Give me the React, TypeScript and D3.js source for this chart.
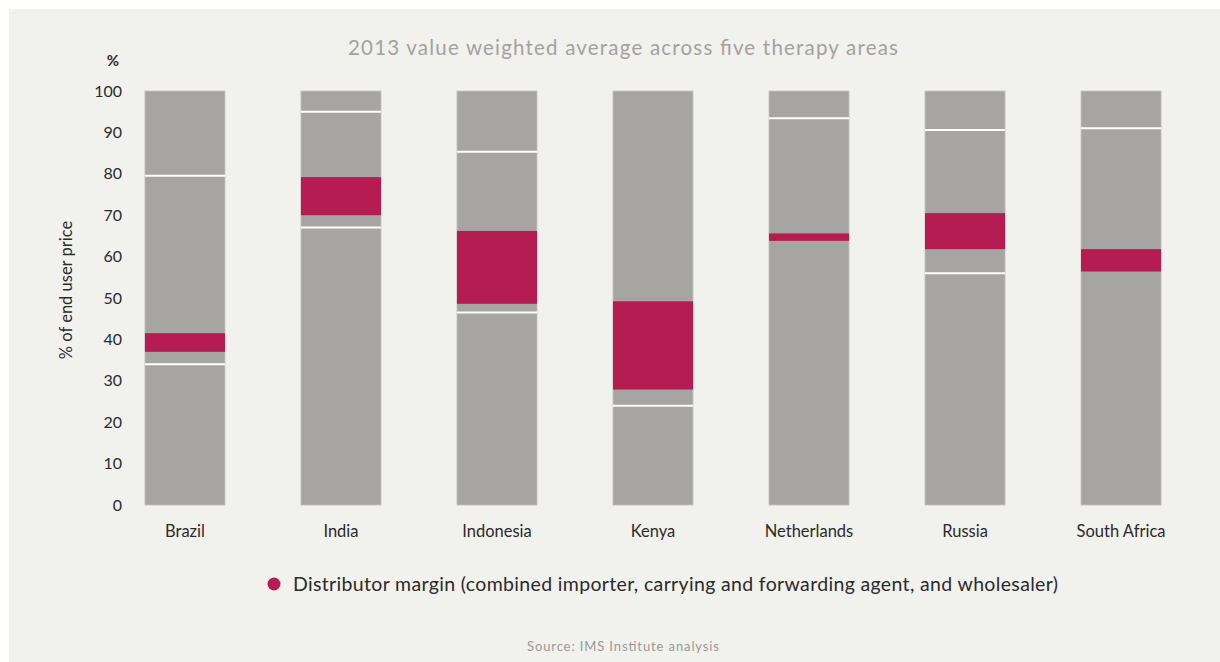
import React from 'react';
import * as d3 from 'd3';

const countries = ['Brazil', 'India', 'Indonesia', 'Kenya', 'Netherlands', 'Russia', 'South Africa'];
// white divider lines (null = no line)
const lowerLine = [34, 67, 46.5, 24, null, 56, null];
const upperLine = [79.5, 95, 85.3, null, 93.4, 90.6, 91];
// distributor margin band
const marginStart = [37, 70, 48.6, 27.9, 63.8, 61.8, 56.4];
const marginEnd = [41.5, 79.2, 66.2, 49.2, 65.6, 70.5, 61.8];
const yTicks = [0, 10, 20, 30, 40, 50, 60, 70, 80, 90, 100];

const title = '2013 value weighted average across five therapy areas';
const legendLabel = 'Distributor margin (combined importer, carrying and forwarding agent, and wholesaler)';
const source = 'Source: IMS Institute analysis';

const W = 1220;
const H = 662;
const font = 'Lato, "Open Sans", sans-serif';

const App = () => {
  const x = d3
    .scaleBand<string>()
    .domain(countries)
    .range([105, 1201])
    .paddingInner(0.487)
    .paddingOuter(0.256);
  const y = d3.scaleLinear().domain([0, 100]).range([505, 91]);
  const bw = x.bandwidth();

  return (
    <svg width={W} height={H} style={{ position: 'absolute', left: 0, top: 0 }}>
      <rect x={0} y={0} width={W} height={H} fill="#ffffff" />
      <rect x={9} y={9} width={W - 9} height={H - 9} fill="#f1f1ee" />

      <text
        x={348}
        y={55}
        fontFamily={font}
        fontSize={20.5}
        fill="#a3a2a0"
        textLength={550}
        lengthAdjust="spacing"
      >
        {title}
      </text>

      <text x={113} y={66} textAnchor="middle" fontFamily={font} fontSize={15} fontWeight={700} fill="#2b2b2b">
        %
      </text>

      {yTicks.map((t) => (
        <text
          key={t}
          x={122}
          y={y(t)}
          dy="0.35em"
          textAnchor="end"
          fontFamily={font}
          fontSize={16}
          fill="#2b2b2b"
        >
          {t}
        </text>
      ))}

      <text
        transform={`translate(72,290) rotate(-90)`}
        textAnchor="middle"
        fontFamily={font}
        fontSize={16.5}
        fill="#2b2b2b"
      >
        % of end user price
      </text>

      {countries.map((c, i) => {
        const x0 = x(c) as number;
        const lines = [lowerLine[i], upperLine[i]].filter((v) => v !== null) as number[];
        return (
          <g key={c}>
            <rect x={x0} y={y(100)} width={bw} height={y(0) - y(100)} fill="#a6a5a3" stroke="#c4c3c0" strokeWidth={0.8} />
            <rect
              x={x0}
              y={y(marginEnd[i])}
              width={bw}
              height={y(marginStart[i]) - y(marginEnd[i])}
              fill="#b41c52"
            />
            {lines.map((v, j) => (
              <line key={j} x1={x0} x2={x0 + bw} y1={y(v)} y2={y(v)} stroke="#ffffff" strokeWidth={2} />
            ))}
            <text
              x={x0 + bw / 2}
              y={537}
              textAnchor="middle"
              fontFamily={font}
              fontSize={16.5}
              fill="#2b2b2b"
            >
              {c}
            </text>
          </g>
        );
      })}

      <circle cx={274} cy={584} r={6.5} fill="#b41c52" />
      <text
        x={293}
        y={591}
        fontFamily={font}
        fontSize={19.5}
        fill="#2b2b2b"
        textLength={765}
        lengthAdjust="spacing"
      >
        {legendLabel}
      </text>

      <text
        x={527}
        y={651}
        fontFamily={font}
        fontSize={13}
        fill="#9a9997"
        textLength={192}
        lengthAdjust="spacing"
      >
        {source}
      </text>
    </svg>
  );
};

export default App;
